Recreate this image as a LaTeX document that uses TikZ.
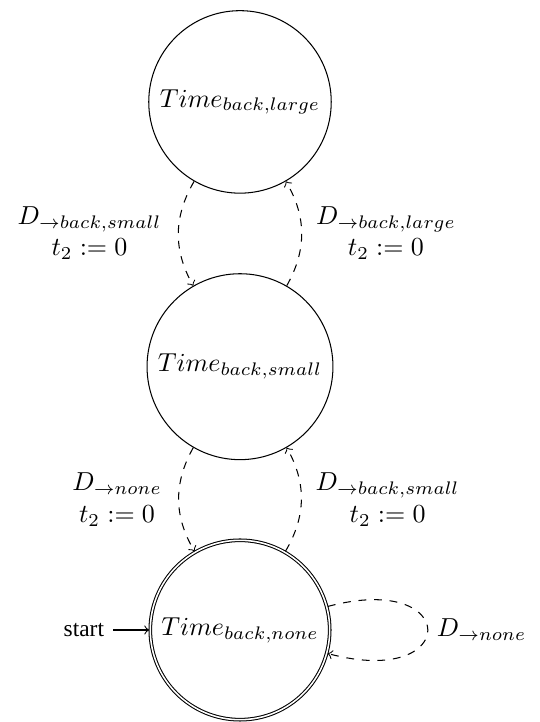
\documentclass[tikz,border=0pt]{standalone}
\usepackage[no-math]{fontspec}
\setmainfont{Liberation Serif}
\usetikzlibrary{automata}

\begin{document}
\begin{tikzpicture}[->, initial text={\small start}]

			\useasboundingbox (-3.245,-1.244) rectangle (4.043,8.518);

			% states
			\node[state, initial, accepting] (none) at (0,0) {$Time_{back,none}$};
			\node[state] (small) at (0,3.56) {$Time_{back,small}$};
			\node[state] (large) at (0,7.14) {$Time_{back,large}$};

			% transitions between large and small
			\path[dashed]
			(large) edge[bend right] node[left=3pt, align=center] {$D_{\rightarrow back,small}$\\$t_2 := 0$} (small)
			(small) edge[bend right] node[right=2pt, align=center] {$D_{\rightarrow back,large}$\\$t_2 := 0$} (large);

			% transitions between small and none
			\path[dashed]
			(small) edge[bend right] node[left=3pt, align=center] {$D_{\rightarrow none}$\\$t_2 := 0$} (none)
			(none) edge[bend right] node[right=2pt, align=center] {$D_{\rightarrow back,small}$\\$t_2 := 0$} (small)
			(none) edge[loop right, looseness=7.5] node[right] {$D_{\rightarrow none}$} (none);

		\end{tikzpicture}
\end{document}
